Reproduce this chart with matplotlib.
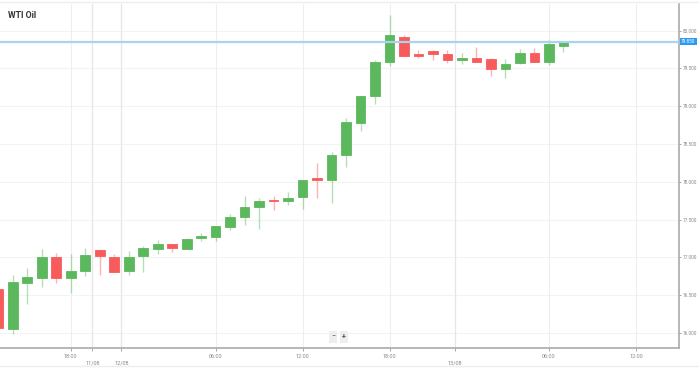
import matplotlib.pyplot as plt
from matplotlib.lines import Line2D

plt.rcParams['font.family'] = ['Roboto', 'DejaVu Sans']

# hourly candles
opens = [76.58, 76.05, 76.66, 76.72, 77.00, 76.72, 76.82, 77.10, 77.01, 76.82,
         77.02, 77.115, 77.17, 77.115, 77.26, 77.27, 77.40, 77.54, 77.66, 77.76,
         77.74, 77.80, 78.04, 78.02, 78.36, 78.78, 79.13, 79.58, 79.91, 79.68,
         79.73, 79.69, 79.61, 79.64, 79.63, 79.49, 79.57, 79.70, 79.59, 79.80]
highs = [76.60, 76.76, 76.86, 77.11, 77.06, 77.05, 77.12, 77.11, 77.04, 77.09,
         77.15, 77.23, 77.18, 77.25, 77.32, 77.42, 77.57, 77.81, 77.78, 77.81,
         77.86, 78.03, 78.25, 78.40, 78.84, 79.14, 79.61, 80.21, 79.94, 79.74,
         79.75, 79.74, 79.71, 79.78, 79.64, 79.63, 79.76, 79.77, 79.87, 79.86]
lows = [76.06, 75.99, 76.38, 76.61, 76.66, 76.53, 76.75, 76.76, 76.80, 76.76,
        76.80, 77.05, 77.07, 77.11, 77.21, 77.22, 77.36, 77.43, 77.37, 77.62,
        77.69, 77.64, 77.79, 77.72, 78.20, 78.67, 79.03, 79.53, 79.66, 79.64,
        79.61, 79.57, 79.56, 79.58, 79.40, 79.37, 79.56, 79.58, 79.55, 79.72]
closes = [76.07, 76.67, 76.74, 77.00, 76.73, 76.82, 77.03, 77.02, 76.81, 77.01,
          77.12, 77.17, 77.12, 77.24, 77.28, 77.41, 77.53, 77.66, 77.75, 77.74,
          77.79, 78.03, 78.03, 78.36, 78.79, 79.13, 79.59, 79.94, 79.66, 79.66,
          79.69, 79.61, 79.64, 79.59, 79.49, 79.56, 79.70, 79.59, 79.82, 79.86]

last_price = 79.855
time_ticks = [5, 15, 21, 27, 38, 44]
time_labels = ['18:00', '06:00', '12:00', '18:00', '06:00', '12:00']
date_ticks = [6.5, 8.5, 31.5]
date_labels = ['11/08', '12/08', '13/08']
y_ticks = [76.0, 76.5, 77.0, 77.5, 78.0, 78.5, 79.0, 79.5, 80.0]

green = '#5cb85c'
red = '#f75b5b'

fig = plt.figure(figsize=(6.99, 3.68), dpi=100)
ax = fig.add_axes([0, 20 / 368, 679 / 699, 344 / 368])

for i in range(len(opens)):
    o, h, l, c = opens[i], highs[i], lows[i], closes[i]
    col = green if c >= o else red
    ax.vlines(i, l, h, color=col, alpha=0.45, lw=1, zorder=2)
    ax.bar(i, max(abs(c - o), 0.025), bottom=min(o, c), width=0.67,
           color=col, edgecolor=col, lw=0.6, zorder=3)

ax.axhline(last_price, color='#a8d4f2', lw=1.6, zorder=4)

ax.set_xlim(0.117, 46.98)
ax.set_ylim(75.80, 80.353)

for y in y_ticks:
    ax.axhline(y, color='#f3f3f3', lw=0.8, zorder=0)
for x in time_ticks:
    ax.axvline(x, color='#eeeeee', lw=0.8, zorder=0)
for x in date_ticks:
    ax.axvline(x, color='#e6e6e6', lw=0.9, zorder=0)

ax.yaxis.tick_right()
ax.set_yticks(y_ticks)
ax.set_yticklabels(['%.3f' % v for v in y_ticks])
ax.tick_params(axis='y', length=1.5, width=0.6, pad=1.5, labelsize=3.4,
               colors='#999999', labelcolor='#888888')

ax.set_xticks(time_ticks)
ax.set_xticklabels(time_labels)
ax.set_xticks(date_ticks, minor=True)
ax.set_xticklabels(date_labels, minor=True)
ax.tick_params(axis='x', which='major', length=2, width=0.6, pad=2,
               labelsize=4, colors='#999999', labelcolor='#888888')
ax.tick_params(axis='x', which='minor', length=2, width=0.6, pad=7,
               labelsize=4, colors='#999999', labelcolor='#888888')

for s in ['left', 'top']:
    ax.spines[s].set_visible(False)
ax.spines['right'].set_color('#aaaaaa')
ax.spines['bottom'].set_color('#aaaaaa')
ax.spines['right'].set_linewidth(1.2)
ax.spines['bottom'].set_linewidth(1.2)

ax.text(8 / 679, 1 - 11 / 344, 'WTI Oil', transform=ax.transAxes,
        fontsize=6.3, fontweight='bold', color='#333333', va='center')

ax.text(1.003, last_price, '79.850', transform=ax.get_yaxis_transform(),
        fontsize=3.4, color='white', va='center', ha='left',
        bbox=dict(boxstyle='square,pad=0.25', fc='#2b9af3', ec='none'), zorder=6)

# zoom buttons
ax.text(333 / 679, 1 - (337 - 4) / 344, '\u2212', transform=ax.transAxes,
        fontsize=5, color='#555555', ha='center', va='center',
        bbox=dict(boxstyle='square,pad=0.3', fc='#eeeeee', ec='none'))
ax.text(344 / 679, 1 - (337 - 4) / 344, '+', transform=ax.transAxes,
        fontsize=5, fontweight='bold', color='#555555', ha='center', va='center',
        bbox=dict(boxstyle='square,pad=0.3', fc='#eeeeee', ec='none'))

fig.add_artist(Line2D([0, 1], [1 - 2 / 368, 1 - 2 / 368], color='#eeeeee', lw=1))
fig.add_artist(Line2D([0, 1], [2 / 368, 2 / 368], color='#eeeeee', lw=1))

fig.savefig('out.png', dpi=100)
